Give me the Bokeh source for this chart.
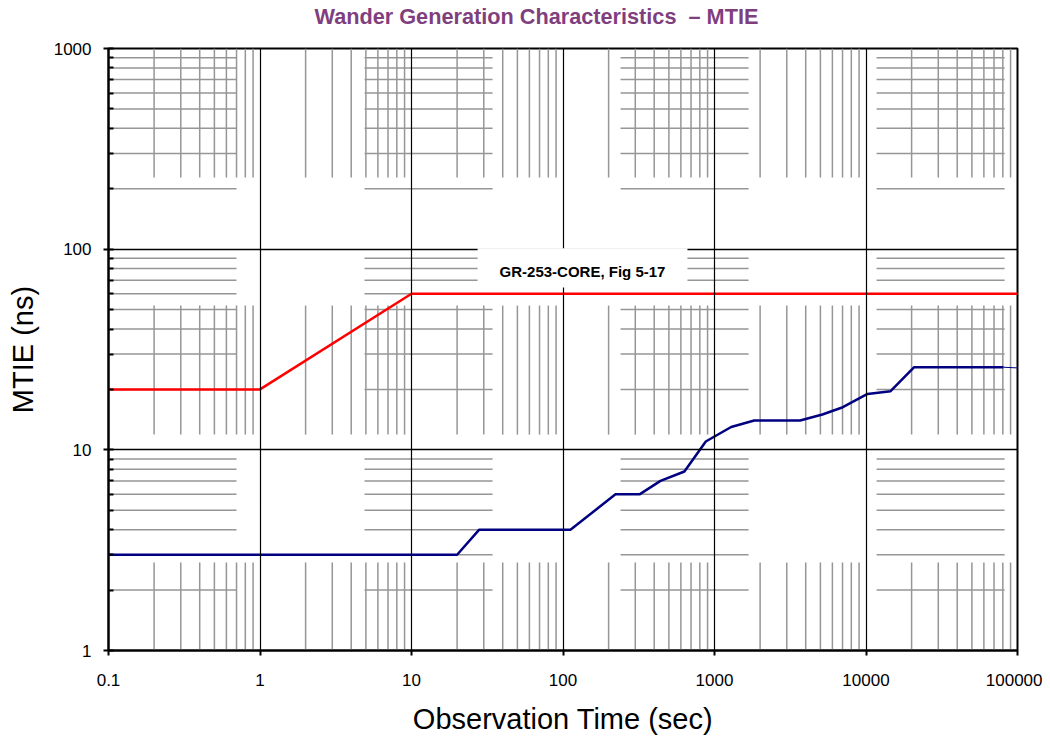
import numpy as np
from bokeh.plotting import figure
from bokeh.models import FixedTicker, BoxAnnotation, Label, LogAxis
from bokeh.embed import file_html
from bokeh.resources import INLINE

# ---------------- data ----------------
title_text = "Wander Generation Characteristics \u00a0\u2013 MTIE"
x_label = "Observation Time (sec)"
y_label = "MTIE (ns)"
note_text = "GR-253-CORE, Fig 5-17"

x_ticks = [0.1, 1, 10, 100, 1000, 10000, 100000]
x_tick_labels = ["0.1", "1", "10", "100", "1000", "10000", "100000"]
y_ticks = [1, 10, 100, 1000]
y_tick_labels = ["1", "10", "100", "1000"]

# GR-253-CORE wander generation MTIE mask (red)
mask_t = [0.1, 1, 10, 100000]
mask_v = [20, 20, 60, 60]

# measured MTIE (navy)
meas_t = [0.1, 20, 28, 112, 222, 320, 440, 633, 876, 1288, 1828, 3672,
          5152, 6883, 10233, 14530, 20800, 80800]
meas_v = [3, 3, 4, 4, 6, 6, 7, 7.8, 11, 13, 14, 14,
          15, 16.2, 19, 19.6, 25.8, 25.8]
tail_t = [80800, 100000]
tail_v = [25.8, 25.6]

# ---------------- figure ----------------
FONT = "Liberation Sans"
p = figure(width=1042, height=740, x_axis_type="log", y_axis_type="log",
           x_range=(0.1, 1e5), y_range=(1, 1000),
           output_backend="svg", toolbar_location=None,
           min_border_left=108, min_border_right=25,
           min_border_top=48, min_border_bottom=90)
p.background_fill_color = "white"
p.border_fill_color = "white"
p.outline_line_color = "black"
p.outline_line_width = 2

# ticks
y_minor = [k * 10.0 ** d for d in range(0, 3) for k in range(2, 10)]
p.xaxis.ticker = FixedTicker(ticks=x_ticks, minor_ticks=[])
p.yaxis.ticker = FixedTicker(ticks=y_ticks, minor_ticks=y_minor)
p.xaxis.major_label_overrides = dict(zip(x_ticks, x_tick_labels))
p.yaxis.major_label_overrides = dict(zip(y_ticks, y_tick_labels))

for ax in (p.xaxis[0], p.yaxis[0]):
    ax.axis_line_color = "black"
    ax.axis_line_width = 2
    ax.major_tick_line_color = "black"
    ax.major_tick_line_width = 2
    ax.major_label_text_font = FONT
    ax.major_label_text_font_size = "17px"
    ax.major_label_text_color = "black"
    ax.axis_label_text_font = FONT
    ax.axis_label_text_font_size = "29px"
    ax.axis_label_text_font_style = "normal"
    ax.axis_label_text_color = "black"

p.xaxis.axis_label = x_label
p.yaxis.axis_label = y_label
p.xaxis.major_tick_in = 0
p.xaxis.major_tick_out = 5
p.xaxis.minor_tick_line_color = None
p.xaxis.major_label_standoff = 18
p.xaxis.axis_label_standoff = 14
p.yaxis.major_tick_in = 5
p.yaxis.major_tick_out = 5
p.yaxis.minor_tick_in = 5
p.yaxis.minor_tick_out = 0
p.yaxis.minor_tick_line_color = "black"
p.yaxis.minor_tick_line_width = 2
p.yaxis.major_label_standoff = 12
p.yaxis.axis_label_standoff = 12

# major grid (black)
p.xgrid.grid_line_color = "black"
p.xgrid.grid_line_width = 1.2
p.ygrid.grid_line_color = "black"
p.ygrid.grid_line_width = 1.6
p.xgrid.level = "glyph"
p.ygrid.level = "glyph"

# ---------------- banded minor grid (graph-paper look) ----------------
XB_START, XB_PERIOD, XB_LEN, XB_N = -1.0, 1.69, 0.845, 4
YB_TOP, YB_PERIOD, YB_LEN, YB_N = 3.0, 1.281, 0.643, 3
x_minor = [k * 10.0 ** d for d in range(-1, 5) for k in range(2, 10)]

x0, y0, x1, y1 = [], [], [], []
for i in range(XB_N):
    a = XB_START + i * XB_PERIOD
    b = a + XB_LEN
    for yv in y_minor:
        x0.append(10 ** a); x1.append(10 ** b); y0.append(yv); y1.append(yv)
for j in range(YB_N):
    top = YB_TOP - j * YB_PERIOD
    bot = max(top - YB_LEN, 0.0)
    for xv in x_minor:
        x0.append(xv); x1.append(xv); y0.append(10 ** bot); y1.append(10 ** top)
p.segment(x0, y0, x1, y1, line_color="#969696", line_width=1.5, level="underlay")

# ---------------- series ----------------
p.line(mask_t, mask_v, line_color="#ff0000", line_width=2.5)
p.line(meas_t, meas_v, line_color="#000080", line_width=2.5)
p.line(tail_t, tail_v, line_color="#000080", line_width=1)

# ---------------- note box ----------------
p.add_layout(BoxAnnotation(left=27.3, right=663, bottom=64.4, top=101,
                           fill_color="white", fill_alpha=1.0,
                           line_color=None, level="annotation"))
p.add_layout(Label(x=134.5, y=77.5, text=note_text, text_align="center",
                   text_baseline="middle", text_font=FONT,
                   text_font_style="bold", text_font_size="15px",
                   text_color="black"))

# ---------------- title: a bare axis above the frame ----------------
TITLE_X = 66.8
title_axis = LogAxis(ticker=FixedTicker(ticks=[TITLE_X], minor_ticks=[]),
                     major_label_overrides={TITLE_X: title_text},
                     axis_line_color=None, major_tick_line_color=None,
                     minor_tick_line_color=None,
                     major_tick_in=0, major_tick_out=0,
                     major_label_standoff=20,
                     major_label_text_font=FONT,
                     major_label_text_font_style="bold",
                     major_label_text_font_size="21.7px",
                     major_label_text_color="#7f3f7f")
p.add_layout(title_axis, "above")

open("out.html", "w").write(file_html(p, INLINE, title="MTIE"))
